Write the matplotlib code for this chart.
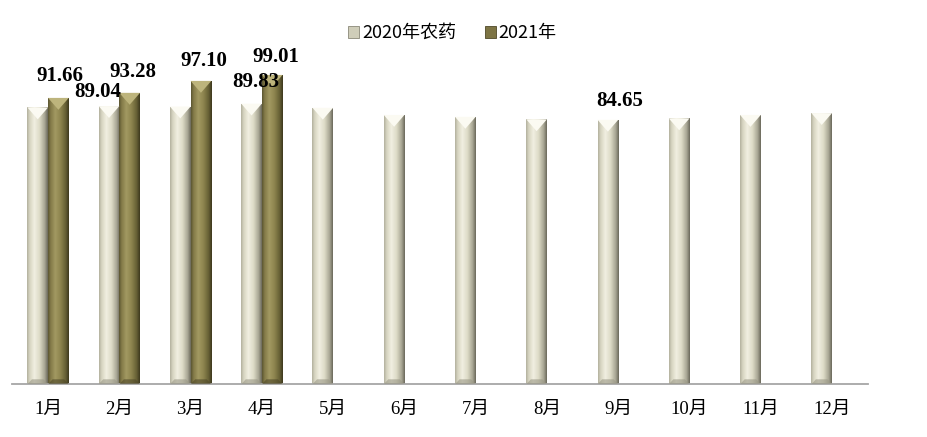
import numpy as np
import matplotlib.pyplot as plt
from matplotlib.colors import LinearSegmentedColormap
from matplotlib.patches import Patch, Polygon

months = ['1月', '2月', '3月', '4月', '5月', '6月',
          '7月', '8月', '9月', '10月', '11月', '12月']
y2020 = [88.6, 89.04, 88.9, 89.83, 88.5, 86.2, 85.6, 84.8, 84.65, 85.1, 86.2, 86.8]
y2021 = [91.66, 93.28, 97.10, 99.01]
series_names = ['2020年农药', '2021年']

# only some bars carry a value label
lab2020 = {1: '89.04', 3: '89.83', 8: '84.65'}
lab2021 = {0: '91.66', 1: '93.28', 2: '97.10', 3: '99.01'}

plt.rcParams['font.family'] = ['Liberation Serif', 'Noto Sans CJK SC']

fig = plt.figure(figsize=(9.27, 4.37), dpi=100)
ax = fig.add_axes([0.0134, 0.1206, 0.9226, 0.715])

cmap20 = LinearSegmentedColormap.from_list('c20', [
    (0.0, '#b3b19f'), (0.12, '#d6d4c0'), (0.35, '#f1efe1'),
    (0.6, '#dddbc7'), (0.85, '#a8a694'), (1.0, '#6c6a5c')])
cmap21 = LinearSegmentedColormap.from_list('c21', [
    (0.0, '#5c5632'), (0.12, '#837a48'), (0.35, '#a29962'),
    (0.6, '#8d844e'), (0.85, '#666035'), (1.0, '#3e391e')])

w = 0.29
x = np.arange(len(months))
b20 = ax.bar(x - w / 2, y2020, w, color='#dddbc7', zorder=1)
b21 = ax.bar(x[:len(y2021)] + w / 2, y2021, w, color='#8d844e', zorder=1)

grad = np.linspace(0, 1, 64).reshape(1, -1)
for bars, cmap, top_col, bot_col in [(b20, cmap20, '#fbfaf2', '#9a9886'),
                                     (b21, cmap21, '#bdb47c', '#4e4828')]:
    for p in bars:
        x0, h, bw = p.get_x(), p.get_height(), p.get_width()
        im = ax.imshow(grad, extent=[x0, x0 + bw, 0, h], aspect='auto',
                       cmap=cmap, zorder=2)
        im.set_clip_path(p)
        d = 3.8
        ax.add_patch(Polygon([(x0, h), (x0 + bw, h), (x0 + bw / 2, h - d)],
                             closed=True, color=top_col, lw=0, zorder=3))
        ax.add_patch(Polygon([(x0, 0), (x0 + bw, 0), (x0 + bw * 0.78, 1.6),
                              (x0 + bw * 0.22, 1.6)],
                             closed=True, color=bot_col, lw=0, alpha=0.6, zorder=3))

# label offsets in pixels from bar top centre
off20 = {1: (-11, 14), 3: (4, 22), 8: (12, 19)}
off21 = {0: (1, 22), 1: (3, 21), 2: (3, 20), 3: (4, 18)}
for bars, labs, offs in [(b20, lab2020, off20), (b21, lab2021, off21)]:
    for i, t in labs.items():
        p = bars[i]
        ax.annotate(t, (p.get_x() + p.get_width() / 2, p.get_height()),
                    xytext=offs[i], textcoords='offset pixels',
                    ha='center', va='center', fontsize=15, fontweight='bold',
                    family=['Liberation Serif'], zorder=5, annotation_clip=False)

ax.set_xlim(-0.5, 11.5)
ax.set_ylim(0, 100)
ax.set_xticks(x)
ax.set_xticklabels(months, fontsize=13.5)
ax.tick_params(axis='x', length=0, pad=12)
ax.set_yticks([])
for s in ['top', 'left', 'right']:
    ax.spines[s].set_visible(False)
ax.spines['bottom'].set_color('#a6a6a6')
ax.spines['bottom'].set_linewidth(1.3)

handles = [Patch(facecolor='#cfcdb9', edgecolor='#8a8878', lw=0.6),
           Patch(facecolor='#7d7444', edgecolor='#4e4828', lw=0.6)]
fig.legend(handles, series_names, loc='center', bbox_to_anchor=(0.488, 0.924),
           ncol=2, frameon=False, handlelength=0.6, handleheight=0.6,
           handletextpad=0.15, columnspacing=1.6,
           prop={'family': ['Noto Sans CJK SC'], 'size': 13})

fig.savefig('out.png', dpi=100)
